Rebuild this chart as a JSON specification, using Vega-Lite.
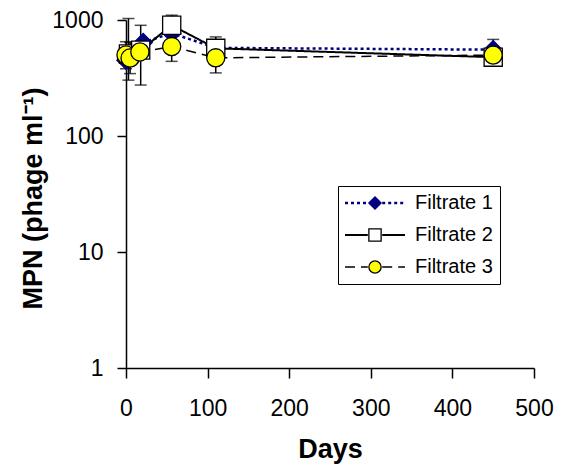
{
  "$schema": "https://vega.github.io/schema/vega-lite/v6.json",
  "width": 408,
  "height": 348,
  "autosize": {"type": "none"},
  "padding": {"left": 126, "top": 20, "right": 28, "bottom": 104},
  "background": "white",
  "config": {
    "view": {"stroke": null},
    "font": "Liberation Sans",
    "axis": {
      "grid": false,
      "domainColor": "black",
      "tickColor": "black",
      "labelColor": "black",
      "titleColor": "black",
      "labelFont": "Liberation Sans",
      "titleFont": "Liberation Sans",
      "labelFontSize": 23,
      "titleFontSize": 27,
      "titleFontWeight": "bold",
      "domainWidth": 1.5,
      "tickWidth": 1.5,
      "labelFlush": false
    }
  },
  "datasets": {
    "pts": [
      {"series": "Filtrate 1", "day": 0, "mpn": 450},
      {"series": "Filtrate 1", "day": 21, "mpn": 640},
      {"series": "Filtrate 1", "day": 56, "mpn": 770},
      {"series": "Filtrate 1", "day": 110, "mpn": 575},
      {"series": "Filtrate 1", "day": 450, "mpn": 555},
      {"series": "Filtrate 2", "day": 3, "mpn": 510},
      {"series": "Filtrate 2", "day": 18, "mpn": 550},
      {"series": "Filtrate 2", "day": 56, "mpn": 900},
      {"series": "Filtrate 2", "day": 110, "mpn": 570},
      {"series": "Filtrate 2", "day": 450, "mpn": 478},
      {"series": "Filtrate 3", "day": 0, "mpn": 500},
      {"series": "Filtrate 3", "day": 5, "mpn": 470},
      {"series": "Filtrate 3", "day": 17, "mpn": 530},
      {"series": "Filtrate 3", "day": 56, "mpn": 590},
      {"series": "Filtrate 3", "day": 110, "mpn": 472},
      {"series": "Filtrate 3", "day": 450, "mpn": 498}
    ],
    "err": [
      {"series": "Filtrate 1", "day": 450, "lo": 460, "hi": 680},
      {"series": "Filtrate 2", "day": 3, "lo": 303, "hi": 1030},
      {"series": "Filtrate 2", "day": 18, "lo": 275, "hi": 900},
      {"series": "Filtrate 2", "day": 56, "lo": 720, "hi": 1100},
      {"series": "Filtrate 2", "day": 110, "lo": 480, "hi": 715},
      {"series": "Filtrate 2", "day": 450, "lo": 410, "hi": 560},
      {"series": "Filtrate 3", "day": 0, "lo": 380, "hi": 650},
      {"series": "Filtrate 3", "day": 5, "lo": 345, "hi": 640},
      {"series": "Filtrate 3", "day": 56, "lo": 440, "hi": 790},
      {"series": "Filtrate 3", "day": 110, "lo": 350, "hi": 630},
      {"series": "Filtrate 3", "day": 450, "lo": 420, "hi": 590}
    ]
  },
  "layer": [
    {
      "data": {"name": "err"},
      "mark": {"type": "errorbar", "ticks": {"size": 12, "thickness": 1.5, "color": "black"}, "rule": {"strokeWidth": 1.5, "color": "black"}, "clip": false},
      "encoding": {
        "x": {"field": "day", "type": "quantitative", "title": "Days"},
        "y": {"field": "lo", "type": "quantitative", "title": "MPN (phage ml⁻¹)"},
        "y2": {"field": "hi"}
      }
    },
    {
      "data": {"name": "pts"},
      "mark": {"type": "line", "clip": false},
      "encoding": {
        "x": {"field": "day", "type": "quantitative", "title": "Days",
          "scale": {"domain": [0, 500], "nice": false},
          "axis": {"values": [0, 100, 200, 300, 400, 500], "tickSize": 10, "labelPadding": 37, "labelBaseline": "alphabetic", "titleY": 89, "titleBaseline": "alphabetic"}},
        "y": {"field": "mpn", "type": "quantitative", "title": "MPN (phage ml⁻¹)",
          "scale": {"type": "log", "domain": [1, 1000], "nice": false},
          "axis": {"values": [1, 10, 100, 1000], "format": "d", "tickSize": 9, "labelPadding": 14, "titleAngle": 270, "titleX": -93, "titleY": 178, "titleBaseline": "middle", "titleAlign": "center"}},
        "color": {"field": "series", "type": "nominal",
          "scale": {"domain": ["Filtrate 1", "Filtrate 2", "Filtrate 3"], "range": ["#000080", "#000000", "#000000"]},
          "legend": {"title": null, "orient": "none", "legendX": 212, "legendY": 166, "padding": 7, "strokeColor": "black", "symbolType": "M-3.75,0H-0.9M0.9,0H3.75", "symbolSize": 256, "symbolStrokeWidth": 2, "symbolOffset": 20, "labelOffset": 30, "rowPadding": 12, "labelFont": "Liberation Sans", "labelFontSize": 20, "labelColor": "black"}},
        "strokeDash": {"field": "series", "type": "nominal",
          "scale": {"domain": ["Filtrate 1", "Filtrate 2", "Filtrate 3"], "range": [[3, 3], [1, 0], [10, 6]]},
          "legend": {"title": null, "orient": "none", "legendX": 212, "legendY": 166, "padding": 7, "strokeColor": "black", "symbolType": "M-3.75,0H-0.9M0.9,0H3.75", "symbolSize": 256, "symbolStrokeWidth": 2, "symbolOffset": 20, "labelOffset": 30, "rowPadding": 12, "labelFont": "Liberation Sans", "labelFontSize": 20, "labelColor": "black"}},
        "strokeWidth": {"field": "series", "type": "nominal",
          "scale": {"domain": ["Filtrate 1", "Filtrate 2", "Filtrate 3"], "range": [2.5, 1.5, 2]},
          "legend": null}
      }
    },
    {
      "data": {"name": "pts"},
      "mark": {"type": "point", "filled": true, "opacity": 1, "strokeWidth": 1.3, "size": 330, "clip": false},
      "encoding": {
        "x": {"field": "day", "type": "quantitative", "title": "Days"},
        "y": {"field": "mpn", "type": "quantitative", "title": "MPN (phage ml⁻¹)"},
        "shape": {"field": "series", "type": "nominal",
          "scale": {"range": ["diamond", "square", "circle"]},
          "legend": {"title": null, "orient": "none", "legendX": 212, "legendY": 166, "padding": 7, "strokeColor": null, "symbolSize": 150, "symbolStrokeWidth": 1.3, "symbolOffset": 20, "labelOffset": 30, "rowPadding": 12, "labelFont": "Liberation Sans", "labelFontSize": 20, "labelOpacity": 0, "zindex": 1}},
        "fill": {"field": "series", "type": "nominal",
          "scale": {"range": ["#000080", "#FFFFFF", "#FFFF00"]},
          "legend": {"title": null, "orient": "none", "legendX": 212, "legendY": 166, "padding": 7, "strokeColor": null, "symbolSize": 150, "symbolStrokeWidth": 1.3, "symbolOffset": 20, "labelOffset": 30, "rowPadding": 12, "labelFont": "Liberation Sans", "labelFontSize": 20, "labelOpacity": 0, "zindex": 1}},
        "stroke": {"field": "series", "type": "nominal",
          "scale": {"range": ["#000080", "#000000", "#000000"]},
          "legend": {"title": null, "orient": "none", "legendX": 212, "legendY": 166, "padding": 7, "strokeColor": null, "symbolSize": 150, "symbolStrokeWidth": 1.3, "symbolOffset": 20, "labelOffset": 30, "rowPadding": 12, "labelFont": "Liberation Sans", "labelFontSize": 20, "labelOpacity": 0, "zindex": 1}}
      }
    }
  ]
}
